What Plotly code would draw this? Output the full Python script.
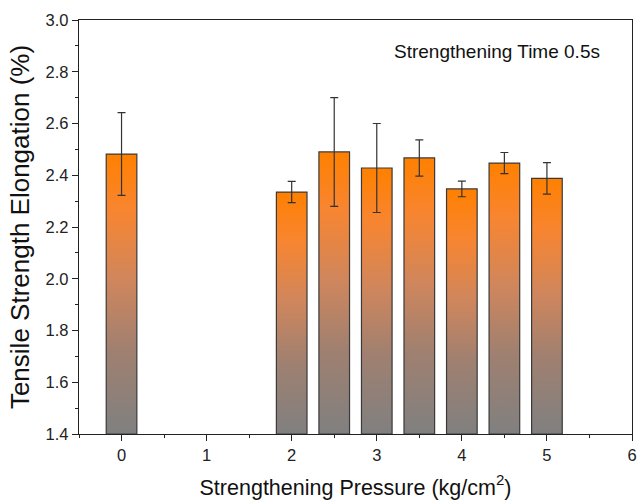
import plotly.graph_objects as go

# Data
pressure = [0, 2, 2.5, 3, 3.5, 4, 4.5, 5]
elongation = [2.482, 2.335, 2.490, 2.428, 2.467, 2.347, 2.447, 2.388]
err = [0.160, 0.041, 0.210, 0.172, 0.070, 0.030, 0.041, 0.061]
bar_width = 0.36
y_base = 1.4
x_ticks = [0, 1, 2, 3, 4, 5, 6]
y_ticks = [1.4, 1.6, 1.8, 2.0, 2.2, 2.4, 2.6, 2.8, 3.0]

FONT = "Liberation Sans, Arial, sans-serif"
fig = go.Figure()

# gradient-filled bars
for xv, yv in zip(pressure, elongation):
    x0, x1 = xv - bar_width / 2, xv + bar_width / 2
    fig.add_trace(go.Scatter(
        x=[x0, x0, x1, x1, x0], y=[y_base, yv, yv, y_base, y_base],
        mode="lines", fill="toself",
        fillgradient=dict(type="vertical",
                          colorscale=[[0, "#808080"], [0.3, "#a08070"], [0.55, "#d0865c"], [0.8, "#f88530"], [1, "#ff8000"]]),
        line=dict(color="#3a3a3a", width=1.2),
        hoverinfo="skip", showlegend=False,
    ))

# error bars
fig.add_trace(go.Scatter(
    x=pressure, y=elongation, mode="markers",
    marker=dict(size=0.1, color="rgba(0,0,0,0)"),
    error_y=dict(type="data", array=err, visible=True, color="#333333", thickness=1.2, width=4),
    showlegend=False,
))

fig.add_annotation(x=0.756, y=0.923, xref="paper", yref="paper",
                   xanchor="center", yanchor="middle",
                   text="Strengthening Time 0.5s", showarrow=False,
                   font=dict(family=FONT, size=19, color="#111"))

axis_common = dict(showline=True, linecolor="#222", linewidth=1.3, mirror=True,
                   ticks="outside", ticklen=6, tickwidth=1.3, tickcolor="#222",
                   showgrid=False, zeroline=False, ticklabeloverflow="allow",
                   tickfont=dict(family=FONT, size=16.5, color="#222"))

fig.update_xaxes(range=[-0.5, 6], tickvals=x_ticks,
                 minor=dict(dtick=0.5, tick0=0, ticks="outside", ticklen=3, tickwidth=1.3, tickcolor="#222"),
                 title=dict(text="Strengthening Pressure (kg/cm<sup>2</sup>)",
                            font=dict(family=FONT, size=21.5, color="#111"), standoff=16),
                 **axis_common)
fig.update_yaxes(range=[1.4, 3.0], tickvals=y_ticks, tickformat=".1f",
                 minor=dict(dtick=0.1, tick0=1.4, ticks="outside", ticklen=3, tickwidth=1.3, tickcolor="#222"),
                 title=dict(text="Tensile Strength Elongation (%)",
                            font=dict(family=FONT, size=26, color="#111"), standoff=8),
                 **axis_common)

fig.update_layout(width=641, height=503, margin=dict(l=79, r=4, t=20, b=69),
                  plot_bgcolor="white", paper_bgcolor="white", showlegend=False)

fig.write_html("out.html")
